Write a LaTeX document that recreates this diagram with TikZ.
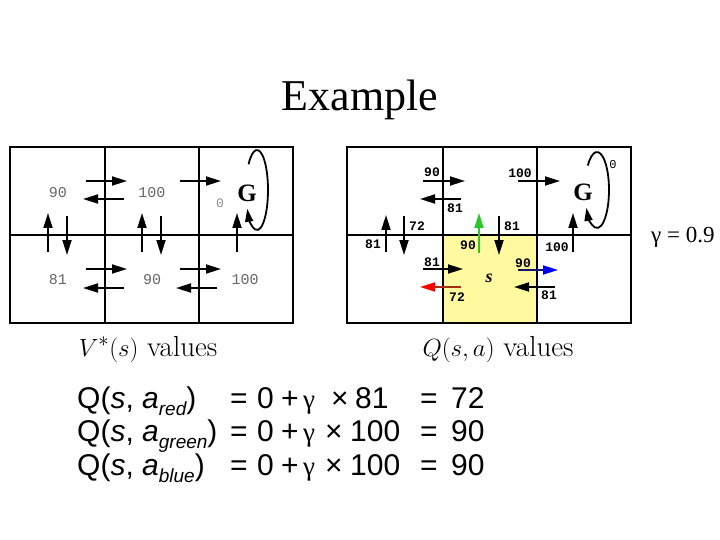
\documentclass[tikz,border=0pt]{standalone}
\usepackage{fontspec}
\newfontfamily\titlefont{Liberation Serif}
\newfontfamily\eqfont{Liberation Sans}
\newfontfamily\gridfont{Liberation Mono}
\usetikzlibrary{arrows.meta}

\definecolor{cellyellow}{RGB}{255,249,160}
\definecolor{redshaft}{RGB}{165,45,20}
\definecolor{blueshaft}{RGB}{20,20,110}
\definecolor{greenarr}{RGB}{40,200,40}

\begin{document}
\begin{tikzpicture}[x=1pt, y=-1pt,
  frame/.style={line width=2.4pt},
  grid/.style={line width=1.4pt},
  arr/.style={line width=1.8pt, -{Triangle[length=15pt,width=9pt]}},
  vlab/.style={font=\gridfont\fontsize{15}{15}\selectfont, text=black!60, inner sep=0pt},
  qlab/.style={font=\gridfont\bfseries\fontsize{13}{13}\selectfont, inner sep=0pt},
  goal/.style={font=\titlefont\bfseries\fontsize{25}{25}\selectfont, inner sep=0pt},
  gridcaption/.style={font=\fontsize{29}{29}\selectfont, inner sep=0pt, anchor=base},
  eq/.style={font=\eqfont\fontsize{30}{30}\selectfont, inner sep=0pt, anchor=base west}
]
\useasboundingbox (0,0) rectangle (720,540);

% ── Title ──
\node[font=\titlefont\fontsize{44}{44}\selectfont, inner sep=0pt, anchor=base] (title) at (360,111) {Example};

% ── V* grid ──
\draw[frame] (10,147) rectangle (293,323);
\draw[grid] (105,147) -- (105,323) (199,147) -- (199,323) (10,235) -- (293,235);
\foreach \xa/\ya/\xb/\yb in {86/181/127/181, 124/199/83/199, 180/181/221/181,
    48/252/48/213, 67/216/67/255, 142/252/142/213, 161/216/161/255, 237/252/237/213,
    86/269/127/269, 124/288/83/288, 180/269/221/269, 217/288/176/288}
  \draw[arr] (\xa,\ya) -- (\xb,\yb);
\draw[line width=1.8pt, -{Triangle[length=13pt,width=8pt]}] (257,190) ++(-140:11 and 40)
  arc[start angle=-140, end angle=152, x radius=11, y radius=40];
\node[vlab] (v1) at (58,193) {90};
\node[vlab] (v2) at (152,193) {100};
\node[vlab, font=\gridfont\fontsize{13}{13}\selectfont, text=black!45] (v3) at (220,203) {0};
\node[goal] (vg) at (247,193) {G};
\node[vlab] (v4) at (58,280) {81};
\node[vlab] (v5) at (152,280) {90};
\node[vlab] (v6) at (245,280) {100};
\node[gridcaption] (vcap) at (148,356) {$V^*(s)$\ values};

% ── Q grid ──
\fill[cellyellow] (443,235) rectangle (537,323);
\draw[frame] (347,147) rectangle (631,323);
\draw[grid] (443,147) -- (443,323) (537,147) -- (537,323) (347,235) -- (631,235);
\foreach \xa/\ya/\xb/\yb in {423/181/465/181, 461/199/420/199, 518/181/560/181,
    386/252/386/215, 404/216/404/255, 499/216/499/255, 573/252/573/213,
    423/269/463/269, 555/287/514/287}
  \draw[arr] (\xa,\ya) -- (\xb,\yb);
\draw[arr, draw=greenarr, -{Triangle[length=15pt,width=9pt,color=greenarr]}] (479,253) -- (479,213);
\draw[arr, draw=redshaft, -{Triangle[length=15pt,width=9pt,color=red]}] (461,287) -- (420,287);
\draw[arr, draw=blueshaft, -{Triangle[length=15pt,width=9pt,color=blue]}] (518,270) -- (558,270);
\draw[line width=1.8pt, -{Triangle[length=13pt,width=8pt]}] (597,190) ++(-140:12 and 38)
  arc[start angle=-140, end angle=152, x radius=12, y radius=38];
\node[qlab] (q1) at (432,172) {90};
\node[qlab] (q2) at (455,208) {81};
\node[qlab] (q3) at (520,173) {100};
\node[qlab, font=\gridfont\fontsize{12}{12}\selectfont] (q4) at (613,165) {0};
\node[goal] (qg) at (583,192) {G};
\node[qlab] (q5) at (373,244) {81};
\node[qlab] (q6) at (417,226) {72};
\node[qlab] (q7) at (468,245) {90};
\node[qlab] (q8) at (512,226) {81};
\node[qlab] (q9) at (557,247) {100};
\node[qlab] (q10) at (432,262) {81};
\node[qlab] (q11) at (457,297) {72};
\node[qlab] (q12) at (523,263) {90};
\node[qlab] (q13) at (549,295) {81};
\node[font=\titlefont\bfseries\itshape\fontsize{18}{18}\selectfont, inner sep=0pt] (s) at (489,278) {s};
\node[gridcaption] (qcap) at (498,356) {$Q(s,a)$\ values};
\node[font=\titlefont\fontsize{23}{23}\selectfont, inner sep=0pt, anchor=base west] (gam) at (651,242) {γ = 0.9};

% ── Equations ──
\foreach \y/\sub/\tx/\nx/\num/\res in {408/red/331/355/81/72, 441/green/325/350/100/90, 475/blue/325/350/100/90} {
  \node[eq] (lhs\sub) at (77,\y) {Q(\textit{s}, \textit{a}\raisebox{-0.25em}{\fontsize{19}{19}\selectfont\itshape\sub})};
  \node[eq] at (230,\y) {=};
  \node[eq] at (257,\y) {0};
  \node[eq] at (281,\y) {+};
  \node[eq, font=\titlefont\fontsize{27}{27}\selectfont] at (303,\y) {γ};
  \node[eq] at (\tx,\y) {×};
  \node[eq] at (\nx,\y) {\num};
  \node[eq] at (420,\y) {=};
  \node[eq] (res\sub) at (451,\y) {\res};
}
\end{tikzpicture}
\end{document}
